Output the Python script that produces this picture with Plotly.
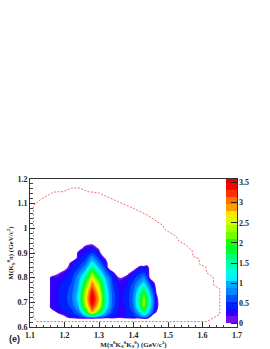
import plotly.graph_objects as go

x_grid = [1.15,1.16,1.18,1.20,1.22,1.24,1.26,1.28,1.30,1.32,1.34,1.36,1.38,1.40,1.42,1.43,1.44,1.46,1.48]
y_grid = [0.62,0.64,0.66,0.68,0.70,0.72,0.74,0.76,0.78,0.80,0.82,0.84,0.86,0.88,0.90,0.92,0.94,0.96]
z_columns = [
 [-1],
 [-1,-1,-1,.25,.28,.28,.27,.27,.25,.2,-1],
 [-1,-1,.22,.3,.33,.34,.33,.32,.3,.27,-.1,-1],
 [-1,-.1,.38,.42,.45,.45,.44,.42,.38,.33,.25,-.25,-1],
 [-1,.3,.45,.55,.62,.65,.62,.58,.52,.46,.4,.34,.3,-.9,-1],
 [-1,.45,.7,.95,1.1,1.15,1.1,1.0,.92,.85,.68,.52,.4,.3,.22,-.4,-1],
 [-1.5,.7,1.6,2.2,2.45,2.5,2.4,2.15,1.85,1.5,1.15,.85,.62,.47,.33,.24,-.24,-1],
 [-2.3,1.0,2.9,3.3,3.55,3.6,3.45,3.2,2.95,2.6,2.15,1.6,1.2,.85,.55,.33,-.1,-1],
 [-2,.8,1.9,2.55,2.75,2.8,2.65,2.45,2.2,1.8,1.35,1.0,.72,.5,.3,-.1,-1],
 [-1.5,.5,.95,1.25,1.35,1.35,1.3,1.2,1.1,.95,.68,.48,.3,-.1,-1],
 [-1,.35,.5,.58,.62,.62,.6,.55,.5,.45,.3,-1],
 [-1,.18,.28,.3,.32,.32,.32,.3,.28,-.01,-1],
 [-1,.4,.36,.37,.38,.38,.37,.36,.33,.25,-.25,-1],
 [-1,.45,.55,.7,.75,.75,.72,.65,.55,.45,.3,-.3,-1],
 [-1.5,.65,1.15,1.6,1.75,1.7,1.5,1.2,.92,.68,.48,.33,-.5,-1],
 [-1.5,.8,1.6,2.2,2.45,2.3,1.95,1.5,1.1,.8,.55,.38,-.6,-1],
 [-1.5,.7,1.2,1.55,1.65,1.6,1.35,1.05,.78,.55,.4,.3,-.3,-1],
 [-1,-1,.45,.55,.6,.55,.45,.3,.05,-1],
 [-1,-1,-1,-.4,-.4,-.5,-1],
]
band_colors = ["#ffffff","#7010f0","#2a00ff","#0020ff","#0050ff","#0088ff","#00aaff","#00f0ff",
 "#00ffd8","#00ffa8","#00ff70","#00ff30","#20ff00","#70ff00","#a8ff00","#d8ff00",
 "#ffe800","#ffa000","#ff7000","#ff3000","#ff0000","#e80000"]
boundary_x = [1.11,1.11,1.129,1.143,1.168,1.197,1.221,1.245,1.266,1.298,1.346,1.403,1.442,1.485,1.492,1.524,1.532,1.55,1.57,1.573,1.59,1.592,1.61,1.612,1.631,1.633,1.65,1.65,1.612,1.119,1.11]
boundary_y = [0.64,1.093,1.115,1.126,1.147,1.149,1.164,1.163,1.149,1.144,1.115,1.079,1.052,1.012,0.994,0.967,0.947,0.935,0.91,0.886,0.877,0.854,0.843,0.82,0.802,0.769,0.755,0.651,0.622,0.622,0.64]

FONT = "Liberation Serif"
n = len(band_colors) - 1
colorscale = [[i / n, c] for i, c in enumerate(band_colors)]
padded = [c + [-1] * (len(y_grid) - len(c)) for c in z_columns]
z_grid = [list(row) for row in zip(*padded)]

fig = go.Figure()
fig.add_trace(go.Contour(
    x=x_grid, y=y_grid, z=z_grid, autocontour=False,
    contours=dict(start=0, end=3.5, size=0.175, coloring="fill", showlines=False),
    line=dict(width=0, smoothing=1), colorscale=colorscale,
    colorbar=dict(x=0.9465, xanchor="left", xref="paper", y=0, yanchor="bottom", len=1, lenmode="fraction",
                  thickness=11, thicknessmode="pixels", xpad=0, ypad=0, outlinewidth=0,
                  tickvals=[0,0.5,1,1.5,2,2.5,3,3.5], ticktext=["0","0.5","1","1.5","2","2.5","3","3.5"],
                  ticks="inside", ticklen=6, tickwidth=1, tickcolor="#222222",
                  tickfont=dict(family=FONT, size=8, color="#222222", weight="bold")),
))
fig.add_trace(go.Scatter(x=boundary_x, y=boundary_y, mode="lines", showlegend=False,
                         line=dict(color="#f06060", width=0.9, dash="2px,1.5px")))
axis = dict(showgrid=False, zeroline=False, showline=True, linecolor="#333333", linewidth=1, mirror=True,
            ticks="inside", ticklen=5, tickwidth=1, tickcolor="#333333", automargin=False,
            tickfont=dict(family=FONT, size=8, color="#222222", weight="bold"),
            minor=dict(ticks="inside", ticklen=2.5, tickwidth=0.7, tickcolor="#444444", dtick=0.02))
fig.update_layout(
    width=270, height=349, margin=dict(l=30, r=33, t=179, b=22, autoexpand=False),
    paper_bgcolor="white", plot_bgcolor="white", showlegend=False,
    xaxis=dict(axis, range=[1.1, 1.7], dtick=0.1, tick0=1.1, tickformat=".1f",
               title=dict(text="M(π<sup>0</sup>K<sub>S</sub><sup>0</sup>K<sub>S</sub><sup>0</sup>) (GeV/c<sup>2</sup>)",
                          font=dict(family=FONT, size=7, color="#222222", weight="bold"), standoff=0)),
    yaxis=dict(axis, range=[0.6, 1.2], dtick=0.1, tick0=0.6,
               tickvals=[0.6,0.7,0.8,0.9,1.0,1.1,1.2], ticktext=["0.6","0.7","0.8","0.9","1","1.1","1.2"],
               title=dict(text="M(K<sub>S</sub><sup>0</sup>π) (GeV/c<sup>2</sup>)",
                          font=dict(family=FONT, size=7, color="#222222", weight="bold"), standoff=2)),
    annotations=[dict(text="<b>(e)</b>", xref="paper", yref="paper", x=-0.11, y=-0.08, xanchor="left", yanchor="middle",
                      showarrow=False, font=dict(family="Liberation Sans", size=9, color="#222222"))],
)
fig.write_html("out.html", config=dict(displayModeBar=False),
               post_script="document.body.style.margin='0';document.documentElement.style.overflow='hidden';")
